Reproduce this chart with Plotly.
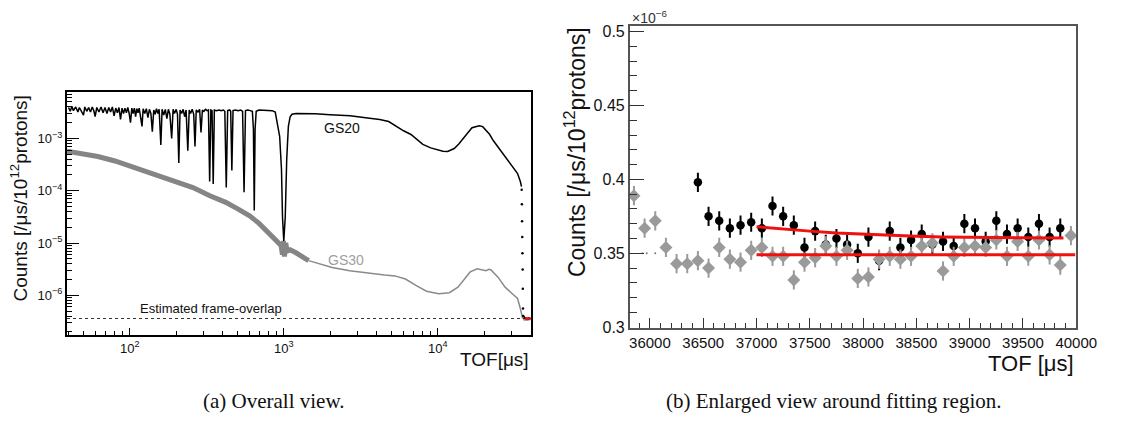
import math
import plotly.graph_objects as go

W, H = 1122, 429

# ---------------- panel (a): overall view (TOF in us, counts per us per 1e12 protons) ----------------
gs20_tof = [40, 41, 42, 43, 44.5, 46, 47, 48.5, 50, 51, 52.5, 54, 55.5, 57, 58.5, 59.5, 61, 63, 65, 67,
            69, 71, 73, 75, 77, 79, 81, 83, 85, 87, 89, 91, 93, 95, 97, 99, 101, 103, 105, 107,
            109, 111, 113, 115, 118, 120, 122, 125, 128, 131, 134, 137, 140, 143, 146, 149, 152, 155, 159, 162,
            166, 170, 174, 178, 182, 187, 191, 195, 200, 204, 208, 212, 217, 222, 227, 232, 238, 243, 248, 254,
            260, 265, 270, 277, 284, 290, 296, 303, 310, 318, 324, 330, 336, 342, 348, 354, 365, 380, 392, 405,
            414, 423, 432, 445, 452, 460, 468, 485, 505, 525, 540, 552, 564, 585, 605, 625, 635, 643, 651, 662,
            690, 730, 780, 840, 880, 910, 940, 966, 981, 1000, 1022, 1045, 1071, 1100, 1130, 1200, 1400, 1600, 2000, 2700,
            3500, 4200, 4800, 5300, 6000, 6700, 7300, 8000, 9000, 9900, 10800, 11600, 12800, 13700, 14600, 15600, 16700, 17800, 18600, 19600,
            20600, 21700, 23000, 25300, 28100, 30500, 33000, 34400, 35000]
gs20_cnt = [3.9e-3, 3.3e-3, 4.1e-3, 3.4e-3, 4.0e-3, 3.2e-3, 3.9e-3, 3.3e-3, 2.8e-3, 4.0e-3, 3.3e-3, 3.9e-3, 3.2e-3, 4.0e-3, 3.3e-3, 2.6e-3, 3.9e-3, 3.2e-3, 4.0e-3, 3.1e-3,
            3.9e-3, 3.0e-3, 3.9e-3, 3.2e-3, 4.0e-3, 2.7e-3, 3.8e-3, 3.1e-3, 3.9e-3, 2.3e-3, 3.8e-3, 3.0e-3, 3.8e-3, 3.1e-3, 3.9e-3, 3.0e-3, 2.0e-3, 3.8e-3, 3.0e-3, 3.8e-3,
            2.6e-3, 3.7e-3, 3.1e-3, 3.8e-3, 2.2e-3, 1.7e-3, 3.7e-3, 3.0e-3, 3.7e-3, 2.5e-3, 3.6e-3, 3.0e-3, 1.35e-3, 3.5e-3, 2.9e-3, 3.7e-3, 3.0e-3, 3.6e-3, 7.5e-4, 3.6e-3,
            2.8e-3, 3.6e-3, 2.4e-3, 3.6e-3, 2.9e-3, 1.0e-3, 3.6e-3, 3.0e-3, 3.6e-3, 2.9e-3, 3.4e-4, 3.5e-3, 3.0e-3, 3.6e-3, 2.6e-3, 3.5e-3, 5.8e-4, 3.5e-3, 3.0e-3, 3.6e-3,
            2.9e-3, 7.0e-4, 3.5e-3, 3.2e-3, 3.6e-3, 1.3e-3, 3.5e-3, 3.3e-3, 3.6e-3, 3.4e-3, 3.5e-3, 1.5e-4, 3.5e-3, 3.4e-3, 1.35e-4, 3.5e-3, 3.4e-3, 3.5e-3, 3.4e-3, 3.5e-3,
            3.3e-3, 1.15e-4, 3.4e-3, 3.5e-3, 3.3e-3, 2.45e-4, 3.4e-3, 3.5e-3, 3.4e-3, 3.5e-3, 3.3e-3, 9.4e-5, 3.4e-3, 3.5e-3, 3.4e-3, 3.3e-3, 1.5e-3, 4.2e-5, 1.5e-3, 3.3e-3,
            3.5e-3, 3.5e-3, 3.5e-3, 3.4e-3, 3.2e-3, 2.0e-3, 1.1e-3, 2.6e-4, 3.1e-5, 1.1e-5, 3.1e-5, 4.1e-4, 1.7e-3, 2.6e-3, 2.9e-3, 3.0e-3, 3.0e-3, 2.95e-3, 2.85e-3, 2.7e-3,
            2.45e-3, 2.3e-3, 2.1e-3, 1.75e-3, 1.4e-3, 1.19e-3, 9.5e-4, 7.7e-4, 6.6e-4, 6.05e-4, 5.7e-4, 5.65e-4, 6.4e-4, 7.8e-4, 9.6e-4, 1.25e-3, 1.6e-3, 1.72e-3, 1.75e-3, 1.68e-3,
            1.45e-3, 1.2e-3, 9.0e-4, 6.2e-4, 4.1e-4, 3.05e-4, 2.13e-4, 1.5e-4, 1.2e-4]
gs20_drop_tof = [35100, 35200, 35300, 35400, 35500, 35600, 35700, 35800, 35900]
gs20_drop_cnt = [1.04e-4, 5.5e-5, 2.6e-5, 1.31e-5, 6.4e-6, 3.1e-6, 1.33e-6, 5.6e-7, 4.0e-7]

gs30_band_tof = [39, 50, 62, 80, 101, 130, 166, 210, 257, 331, 420, 502, 600, 688, 770, 848, 920,
                 960, 980, 995, 1010, 1030, 1050, 1100, 1200, 1360, 1450]
gs30_band_cnt = [5.7e-4, 5.1e-4, 4.5e-4, 3.7e-4, 2.9e-4, 2.3e-4, 1.8e-4, 1.4e-4, 1.15e-4, 8.0e-5, 6.0e-5, 4.5e-5, 3.3e-5, 2.4e-5, 1.7e-5, 1.35e-5, 1.0e-5,
                 9.0e-6, 6.0e-6, 1.1e-5, 5.5e-6, 1.0e-5, 7.0e-6, 7.4e-6, 6.5e-6, 5.2e-6, 4.6e-6]
gs30_tof = [1450, 1600, 2060, 2680, 3480, 4520, 5270, 6170, 7220, 8450, 10150, 11900, 13530, 15000, 16250, 18050,
            19300, 20550, 21500, 22200, 24700, 27400, 30500, 33000, 34400, 35200, 35600]
gs30_cnt = [4.6e-6, 4.2e-6, 3.4e-6, 2.95e-6, 2.65e-6, 2.45e-6, 2.35e-6, 2.05e-6, 1.55e-6, 1.2e-6, 1.07e-6, 1.12e-6, 1.43e-6, 2.05e-6, 2.8e-6, 3.2e-6,
            3.1e-6, 2.95e-6, 3.15e-6, 3.05e-6, 2.2e-6, 1.43e-6, 1.07e-6, 8.7e-7, 5.6e-7, 4.0e-7, 3.6e-7]
frame_overlap = 3.6e-7

# ---------------- panel (b): enlarged view (counts in units of 1e-6) ----------------
b_gs30_tof = [35850, 35950, 36050, 36150, 36250, 36350, 36450, 36550, 36650, 36750, 36850, 36950,
              37050, 37150, 37250, 37350, 37450, 37550, 37650, 37750, 37850, 37950, 38050, 38150,
              38250, 38350, 38450, 38550, 38650, 38750, 38850, 38950, 39050, 39150, 39250, 39350,
              39450, 39550, 39650, 39750, 39850, 39950]
b_gs30_cnt = [0.389, 0.367, 0.372, 0.354, 0.343, 0.343, 0.345, 0.340, 0.354, 0.346, 0.344, 0.352,
              0.354, 0.348, 0.348, 0.332, 0.344, 0.347, 0.355, 0.348, 0.352, 0.333, 0.334, 0.346,
              0.348, 0.346, 0.348, 0.355, 0.357, 0.338, 0.348, 0.354, 0.355, 0.354, 0.359, 0.348,
              0.358, 0.348, 0.359, 0.349, 0.342, 0.362]
b_gs20_tof = [36450, 36550, 36650, 36750, 36850, 36950, 37050, 37150, 37250, 37350, 37450, 37550,
              37650, 37750, 37850, 37950, 38050, 38150, 38250, 38350, 38450, 38550, 38650, 38750,
              38850, 38950, 39050, 39150, 39250, 39350, 39450, 39550, 39650, 39750, 39850]
b_gs20_cnt = [0.398, 0.375, 0.372, 0.367, 0.369, 0.371, 0.367, 0.382, 0.375, 0.369, 0.354, 0.365,
              0.356, 0.360, 0.356, 0.350, 0.361, 0.345, 0.365, 0.354, 0.359, 0.363, 0.356, 0.358,
              0.355, 0.370, 0.367, 0.358, 0.372, 0.363, 0.367, 0.361, 0.370, 0.361, 0.367]
b_stray_tof = [35930, 35970, 36050]
b_stray_cnt = [0.350, 0.350, 0.350]
b_err = 0.0065

fit20_tof = [37000, 37250, 37500, 37750, 38000, 38250, 38500, 38750, 39000, 39250, 39500, 39880]
fit20_cnt = [0.3680, 0.3663, 0.3650, 0.3637, 0.3628, 0.3621, 0.3615, 0.3611, 0.3608, 0.3606, 0.3605, 0.3604]
fit30_tof = [37000, 39990]
fit30_cnt = [0.3490, 0.3490]

# ---------------- layout geometry ----------------
A_X = [68.3, 541.0]; A_Y = [91.0, 341.0]
B_X = [641.7, 1097.0]; B_Y = [24.0, 333.5]
a_xrange = [1.592, 4.605]
a_yrange = [-6.764, -2.106]
b_xrange = [35810, 40002]
b_yrange = [0.2995, 0.5035]

FONT = "Liberation Sans"
SERIF = "Liberation Serif"


def px(x):
    return x / W


def py(y):
    return 1 - y / H


fig = go.Figure()

# panel (a) traces
fig.add_trace(go.Scatter(x=gs30_band_tof, y=gs30_band_cnt, mode="lines",
                         line=dict(color="#858585", width=5), xaxis="x", yaxis="y", showlegend=False))
fig.add_trace(go.Scatter(x=gs30_tof + b_gs30_tof, y=gs30_cnt + [v * 1e-6 for v in b_gs30_cnt], mode="lines",
                         line=dict(color="#8a8a8a", width=1.5), xaxis="x", yaxis="y", showlegend=False))
fig.add_trace(go.Scatter(x=[10 ** a_xrange[0], 10 ** a_xrange[1]], y=[frame_overlap, frame_overlap], mode="lines",
                         line=dict(color="#333333", width=1, dash="dot"), xaxis="x", yaxis="y", showlegend=False))
fig.add_trace(go.Scatter(x=gs20_tof, y=gs20_cnt, mode="lines",
                         line=dict(color="black", width=1.5), xaxis="x", yaxis="y", showlegend=False))
fig.add_trace(go.Scatter(x=gs20_drop_tof, y=gs20_drop_cnt, mode="markers",
                         marker=dict(color="black", size=2.5), xaxis="x", yaxis="y", showlegend=False))
fig.add_trace(go.Scatter(x=b_gs20_tof, y=[v * 1e-6 for v in b_gs20_cnt], mode="lines",
                         line=dict(color="black", width=1.2), xaxis="x", yaxis="y", showlegend=False))
for ft, fc in ((fit20_tof, fit20_cnt), (fit30_tof, fit30_cnt)):
    fig.add_trace(go.Scatter(x=ft, y=[v * 1e-6 for v in fc], mode="lines",
                             line=dict(color="#ee1111", width=2), xaxis="x", yaxis="y", showlegend=False))

# panel (b) traces
fig.add_trace(go.Scatter(x=b_stray_tof, y=b_stray_cnt, mode="markers",
                         marker=dict(color="#777777", size=2), xaxis="x2", yaxis="y2", showlegend=False))
fig.add_trace(go.Scatter(x=b_gs20_tof, y=b_gs20_cnt, mode="markers",
                         marker=dict(color="black", size=8.5, symbol="circle"),
                         error_y=dict(type="constant", value=b_err, color="black", thickness=2, width=0),
                         xaxis="x2", yaxis="y2", showlegend=False))
fig.add_trace(go.Scatter(x=b_gs30_tof, y=b_gs30_cnt, mode="markers",
                         marker=dict(color="#9a9a9a", size=10, symbol="diamond"),
                         error_y=dict(type="constant", value=b_err, color="#9a9a9a", thickness=2, width=0),
                         xaxis="x2", yaxis="y2", showlegend=False))
for ft, fc in ((fit20_tof, fit20_cnt), (fit30_tof, fit30_cnt)):
    fig.add_trace(go.Scatter(x=ft, y=fc, mode="lines",
                             line=dict(color="#f01010", width=3), xaxis="x2", yaxis="y2", showlegend=False))

x_minor = [m * 10 ** e for e in range(1, 5) for m in range(2, 10)]
y_minor = [m * 10.0 ** e for e in range(-7, -2) for m in range(2, 10)]

fig.update_layout(
    width=W, height=H, margin=dict(l=0, r=0, t=0, b=0),
    paper_bgcolor="white", plot_bgcolor="white",
    font=dict(family=FONT, color="#111111"),
    xaxis=dict(domain=[px(A_X[0]), px(A_X[1])], type="log", range=a_xrange, anchor="y",
               showline=True, linecolor="black", linewidth=2, mirror=True, showgrid=False, zeroline=False,
               ticks="inside", ticklen=7, tickwidth=1, tickcolor="black",
               tickmode="array", tickvals=[100, 1000, 10000],
               ticktext=["10<sup>2</sup>", "10<sup>3</sup>", "10<sup>4</sup>"],
               tickfont=dict(size=13, family=FONT),
               minor=dict(tickmode="array", tickvals=x_minor, ticks="inside", ticklen=4, tickcolor="black", showgrid=False)),
    yaxis=dict(domain=[py(A_Y[1]), py(A_Y[0])], type="log", range=a_yrange, anchor="x",
               showline=True, linecolor="black", linewidth=2, mirror=True, showgrid=False, zeroline=False,
               ticks="inside", ticklen=12, tickwidth=1, tickcolor="black",
               tickmode="array", tickvals=[1e-6, 1e-5, 1e-4, 1e-3],
               ticktext=["10<sup>−6</sup>", "10<sup>−5</sup>", "10<sup>−4</sup>", "10<sup>−3</sup>"],
               tickfont=dict(size=13, family=FONT),
               minor=dict(tickmode="array", tickvals=y_minor, ticks="inside", ticklen=5, tickcolor="black", showgrid=False)),
    xaxis2=dict(domain=[px(B_X[0]), px(B_X[1])], range=b_xrange, anchor="y2",
                showline=True, linecolor="#555555", linewidth=1.5, mirror=True, showgrid=False, zeroline=False,
                ticks="inside", ticklen=10, tickwidth=1, tickcolor="#333333",
                tickmode="linear", tick0=36000, dtick=500, tickformat="d",
                tickfont=dict(size=15, family=FONT),
                minor=dict(ticks="inside", dtick=100, ticklen=5, tickcolor="#333333", showgrid=False)),
    yaxis2=dict(domain=[py(B_Y[1]), py(B_Y[0])], range=b_yrange, anchor="x2",
                showline=True, linecolor="#555555", linewidth=1.5, mirror=True, showgrid=False, zeroline=False,
                ticks="inside", ticklen=15, tickwidth=1, tickcolor="#333333",
                tickmode="array", tickvals=[0.3, 0.35, 0.4, 0.45, 0.5],
                ticktext=["0.3", "0.35", "0.4", "0.45", "0.5"],
                tickfont=dict(size=16, family=FONT),
                minor=dict(ticks="inside", dtick=0.01, tick0=0.3, ticklen=8, tickcolor="#333333", showgrid=False)),
)


def label(text, x, y, size, color="#111111", family=FONT, xanchor="center", yanchor="middle", angle=0):
    return dict(text=text, x=px(x), y=py(y), xref="paper", yref="paper", xanchor=xanchor, yanchor=yanchor,
                textangle=angle, showarrow=False, font=dict(size=size, family=family, color=color))


ann = [
    # panel (a)
    label("Counts [/μs/10<sup>12</sup>protons]", 19, 201, 19, angle=-90),
    label("TOF[μs]", 541, 366, 19, xanchor="right"),
    label("GS20", 348.5, 128.3, 14),
    label("GS30", 353, 263.3, 14, color="#a0a0a0"),
    label("Estimated frame-overlap", 215.5, 313.3, 13),
    # panel (b)
    label("Counts [/μs/10<sup>12</sup>protons]", 586, 153, 23, angle=-90),
    label("TOF [μs]", 1097, 370, 22, xanchor="right"),
    label("×10<sup>−6</sup>", 642, 14, 14, color="#333333", xanchor="left"),
    # captions
    label("(a) Overall view.", 279, 408, 21, family=SERIF),
    label("(b) Enlarged view around fitting region.", 850, 408, 21, family=SERIF),
]
fig.update_layout(annotations=ann)

fig.write_html("out.html")
